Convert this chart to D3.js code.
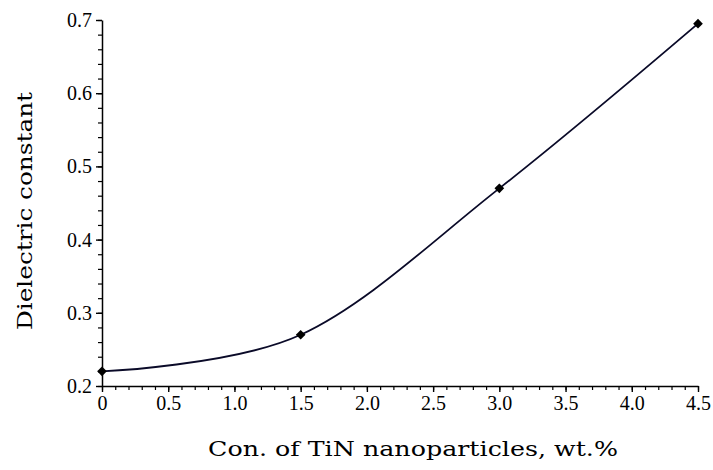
<!DOCTYPE html>
<html>
<head>
<meta charset="utf-8">
<script src="https://cdn.jsdelivr.net/npm/d3@7"></script>
<style>
  body { margin: 0; background: #fff; }
  .tick text { font-family: "Liberation Serif", serif; font-size: 20px; fill: #000; }
  .title { font-family: "DejaVu Serif", serif; font-size: 21px; fill: #000; }
</style>
</head>
<body>
<svg id="chart" width="713" height="470"></svg>
<script>
  // data
  const conc = [0, 1.5, 3.0, 4.5];
  const dielectric = [0.22, 0.27, 0.47, 0.695];

  const xTicks = [0, 0.5, 1.0, 1.5, 2.0, 2.5, 3.0, 3.5, 4.0, 4.5];
  const yTicks = [0.2, 0.3, 0.4, 0.5, 0.6, 0.7];

  const svg = d3.select("#chart");

  const x = d3.scaleLinear().domain([0, 4.5]).range([102, 698]);
  const y = d3.scaleLinear().domain([0.2, 0.7]).range([386, 20]);

  // minor ticks
  const xMinor = d3.range(0, 4.501, 0.1);
  const yMinor = d3.range(0.2, 0.7001, 0.02);

  svg.append("g")
    .attr("transform", "translate(0,386)")
    .call(d3.axisBottom(x).tickValues(xMinor).tickSize(4).tickFormat(""))
    .call((g) => g.select(".domain").remove())
    .selectAll("line").attr("stroke-width", 1.2);

  svg.append("g")
    .attr("transform", "translate(102,0)")
    .call(d3.axisLeft(y).tickValues(yMinor).tickSize(4).tickFormat(""))
    .call((g) => g.select(".domain").remove())
    .selectAll("line").attr("stroke-width", 1.2);

  const xAxis = svg.append("g")
    .attr("transform", "translate(0,386)")
    .call(
      d3.axisBottom(x)
        .tickValues(xTicks)
        .tickSize(6)
        .tickSizeOuter(0)
        .tickPadding(4)
        .tickFormat((d) => (d === 0 ? "0" : d3.format(".1f")(d)))
    );
  xAxis.select(".domain").attr("stroke-width", 1.5);
  xAxis.selectAll(".tick line").attr("stroke-width", 1.4);

  const yAxis = svg.append("g")
    .attr("transform", "translate(102,0)")
    .call(
      d3.axisLeft(y)
        .tickValues(yTicks)
        .tickSize(6)
        .tickSizeOuter(0)
        .tickPadding(4)
        .tickFormat(d3.format(".1f"))
    );
  yAxis.select(".domain").attr("stroke-width", 1.5);
  yAxis.selectAll(".tick line").attr("stroke-width", 1.4);

  // curve
  const pts = conc.map((c, i) => [c, dielectric[i]]);
  const line = d3.line()
    .x((d) => x(d[0]))
    .y((d) => y(d[1]))
    .curve(d3.curveCatmullRom.alpha(0));

  svg.append("path")
    .datum(pts)
    .attr("d", line)
    .attr("fill", "none")
    .attr("stroke", "#0a0a28")
    .attr("stroke-width", 1.8);

  svg.selectAll(".pt")
    .data(pts)
    .enter()
    .append("path")
    .attr("class", "pt")
    .attr("d", d3.symbol().type(d3.symbolDiamond2).size(60))
    .attr("transform", (d) => `translate(${x(d[0])},${y(d[1])})`)
    .attr("fill", "#000");

  svg.append("text")
    .attr("class", "title")
    .attr("x", 413)
    .attr("y", 456)
    .attr("text-anchor", "middle")
    .attr("textLength", 410)
    .attr("lengthAdjust", "spacingAndGlyphs")
    .text("Con. of TiN nanoparticles, wt.%");

  svg.append("text")
    .attr("class", "title")
    .attr("transform", "translate(32,211) rotate(-90)")
    .attr("text-anchor", "middle")
    .attr("textLength", 238)
    .attr("lengthAdjust", "spacingAndGlyphs")
    .text("Dielectric constant");
</script>
</body>
</html>
